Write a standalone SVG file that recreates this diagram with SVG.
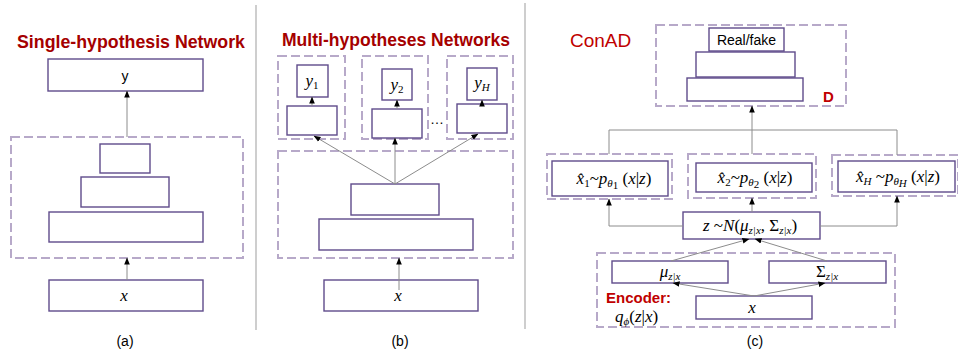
<svg xmlns="http://www.w3.org/2000/svg" width="958" height="355" viewBox="0 0 958 355">
  <style>
    .box{fill:#fff;stroke:#5f4b8b;stroke-width:1.4}
    .grp{fill:none;stroke:#b7a9c9;stroke-width:2;stroke-dasharray:9 4}
    .link{fill:none;stroke:#8c8c8c;stroke-width:1}
    .div{stroke:#b4b4b4;stroke-width:1.3}
    .title{font-family:"Liberation Sans",Arial,sans-serif;font-weight:bold;font-size:19px;fill:#a50000}
    .red{font-family:"Liberation Sans",Arial,sans-serif;fill:#c00000}
    .sans{font-family:"Liberation Sans",Arial,sans-serif;font-size:14px;fill:#000}
    .m{font-family:"Liberation Serif","Times New Roman",serif;font-size:17px;fill:#000}
    .i{font-style:italic}
    .sub{font-size:11px}
  </style>
  <defs>
    <marker id="arr" viewBox="0 0 8 8" refX="7.5" refY="4" markerWidth="7" markerHeight="7" orient="auto" markerUnits="userSpaceOnUse">
      <path d="M0,0.8 L8,4 L0,7.2 Z" fill="#000"/>
    </marker>
  </defs>

  <!-- panel dividers -->
  <line class="div" x1="256" y1="5" x2="256" y2="330"/>
  <line class="div" x1="525" y1="3" x2="525" y2="329"/>

  <!-- (a) single-hypothesis network -->
  <text class="title" x="17" y="48" textLength="228" lengthAdjust="spacingAndGlyphs">Single-hypothesis Network</text>
  <g id="a-out">
    <rect class="box" x="48" y="59" width="155" height="32"/>
    <text class="sans" x="125" y="81" text-anchor="middle" font-size="16">y</text>
  </g>
  <g id="a-net">
    <rect class="grp" x="11" y="137" width="232" height="121"/>
    <rect class="box" x="100" y="144" width="50" height="29"/>
    <rect class="box" x="81" y="177" width="88" height="30"/>
    <rect class="box" x="49" y="212" width="154" height="30"/>
  </g>
  <g id="a-in">
    <rect class="box" x="49" y="280" width="154" height="31"/>
    <text class="m i" x="124" y="301" text-anchor="middle">x</text>
  </g>
  <text class="sans" x="125" y="346" text-anchor="middle">(a)</text>

  <!-- (b) multi-hypotheses networks -->
  <text class="title" x="282" y="46" textLength="228" lengthAdjust="spacingAndGlyphs">Multi-hypotheses Networks</text>
  <g id="b-head1">
    <rect class="grp" x="278" y="56" width="67" height="83"/>
    <rect class="box" x="297" y="65" width="31" height="32"/>
    <text class="m i" x="312" y="86" text-anchor="middle">y<tspan class="sub" font-style="normal" dy="3">1</tspan></text>
    <rect class="box" x="287" y="106" width="50" height="29"/>
  </g>
  <g id="b-head2">
    <rect class="grp" x="362" y="56" width="66" height="83"/>
    <rect class="box" x="382" y="69" width="30" height="31"/>
    <text class="m i" x="397" y="90" text-anchor="middle">y<tspan class="sub" font-style="normal" dy="3">2</tspan></text>
    <rect class="box" x="372" y="109" width="50" height="29"/>
  </g>
  <text class="sans" x="437" y="124" text-anchor="middle">…</text>
  <g id="b-headH">
    <rect class="grp" x="447" y="56" width="66" height="83"/>
    <rect class="box" x="467" y="68" width="30" height="32"/>
    <text class="m i" x="482" y="88" text-anchor="middle">y<tspan class="sub" dy="3">H</tspan></text>
    <rect class="box" x="457" y="104" width="50" height="29"/>
  </g>
  <g id="b-net">
    <rect class="grp" x="278" y="151" width="235" height="107"/>
    <rect class="box" x="351" y="184" width="88" height="31"/>
    <rect class="box" x="319" y="219" width="154" height="31"/>
  </g>
  <g id="b-in">
    <rect class="box" x="324" y="280" width="154" height="31"/>
    <text class="m i" x="398" y="301" text-anchor="middle">x</text>
  </g>
  <text class="sans" x="400" y="346" text-anchor="middle">(b)</text>

  <!-- (c) ConAD -->
  <text class="red" x="570" y="47" font-size="19">ConAD</text>
  <g id="c-disc">
    <rect class="grp" x="656" y="25" width="190" height="81"/>
    <rect class="box" x="709" y="28" width="75" height="23"/>
    <text class="sans" x="746.5" y="45" text-anchor="middle">Real/fake</text>
    <rect class="box" x="696" y="52" width="99" height="25"/>
    <rect class="box" x="687" y="78" width="116" height="23"/>
    <text class="red" x="823" y="102" font-size="15" font-weight="bold">D</text>
  </g>
  <g id="c-dec1">
    <rect class="grp" x="547" y="154" width="125" height="45"/>
    <rect class="box" x="552" y="161" width="116" height="35"/>
    <text class="m" x="614" y="184" text-anchor="middle"><tspan class="i">x̂</tspan><tspan class="sub" dy="3">1</tspan><tspan dy="-3">~</tspan><tspan class="i">p</tspan><tspan class="sub i" dy="3">θ</tspan><tspan class="sub" font-size="8" dy="2">1</tspan><tspan dy="-5"> (</tspan><tspan class="i">x</tspan>|<tspan class="i">z</tspan>)</text>
  </g>
  <g id="c-dec2">
    <rect class="grp" x="688" y="154" width="128" height="44"/>
    <rect class="box" x="696" y="163" width="116" height="29"/>
    <text class="m" x="755" y="183" text-anchor="middle"><tspan class="i">x̂</tspan><tspan class="sub" dy="3">2</tspan><tspan dy="-3">~</tspan><tspan class="i">p</tspan><tspan class="sub i" dy="3">θ</tspan><tspan class="sub" font-size="8" dy="2">2</tspan><tspan dy="-5"> (</tspan><tspan class="i">x</tspan>|<tspan class="i">z</tspan>)</text>
  </g>
  <g id="c-decH">
    <rect class="grp" x="832" y="155" width="126" height="41"/>
    <rect class="box" x="838" y="161" width="117" height="31"/>
    <text class="m" x="898" y="182" text-anchor="middle"><tspan class="i">x̂</tspan><tspan class="sub i" dy="3">H</tspan><tspan dy="-3"> ~</tspan><tspan class="i">p</tspan><tspan class="sub i" dy="3">θ</tspan><tspan class="sub i" font-size="8" dy="2">H</tspan><tspan dy="-5"> (</tspan><tspan class="i">x</tspan>|<tspan class="i">z</tspan>)</text>
  </g>
  <g id="c-latent">
    <rect class="box" x="683" y="212" width="137" height="27"/>
    <text class="m" x="750" y="231" text-anchor="middle"><tspan class="i">z</tspan> ~<tspan class="i">N</tspan>(<tspan class="i">μ</tspan><tspan class="sub i" dy="3">z|x</tspan><tspan dy="-3">, Σ</tspan><tspan class="sub i" dy="3">z|x</tspan><tspan dy="-3">)</tspan></text>
  </g>
  <g id="c-enc">
    <rect class="grp" x="597" y="253" width="298" height="74"/>
    <rect class="box" x="612" y="261" width="116" height="22"/>
    <text class="m" x="670" y="277" text-anchor="middle"><tspan class="i">μ</tspan><tspan class="sub i" dy="3">z|x</tspan></text>
    <rect class="box" x="769" y="261" width="117" height="22"/>
    <text class="m" x="827" y="277" text-anchor="middle">Σ<tspan class="sub i" dy="3">z|x</tspan></text>
    <rect class="box" x="696" y="296" width="116" height="23"/>
    <text class="m i" x="752" y="313" text-anchor="middle">x</text>
    <text class="red" x="606" y="303" font-size="15" font-weight="bold">Encoder:</text>
    <text class="m" x="615" y="322"><tspan class="i">q</tspan><tspan class="sub i" dy="3">ϕ</tspan><tspan dy="-3">(</tspan><tspan class="i">z</tspan>|<tspan class="i">x</tspan>)</text>
  </g>
  <text class="sans" x="755" y="346" text-anchor="middle">(c)</text>

  <!-- connectors -->
  <g id="connectors">
    <line class="link" x1="127" y1="137" x2="127" y2="91" marker-end="url(#arr)"/>
    <line class="link" x1="127" y1="280" x2="127" y2="258" marker-end="url(#arr)"/>

    <line class="link" x1="399" y1="290" x2="399" y2="258" marker-end="url(#arr)"/>
    <line class="link" x1="395" y1="184" x2="314" y2="136" marker-end="url(#arr)"/>
    <line class="link" x1="395" y1="184" x2="395" y2="138" marker-end="url(#arr)"/>
    <line class="link" x1="395" y1="184" x2="478" y2="134" marker-end="url(#arr)"/>
    <line class="link" x1="312" y1="106" x2="312" y2="97" marker-end="url(#arr)"/>
    <line class="link" x1="397" y1="109" x2="397" y2="100" marker-end="url(#arr)"/>
    <line class="link" x1="482" y1="104" x2="482" y2="100" marker-end="url(#arr)"/>

    <path class="link" d="M609,154 V130 H897 V155"/>
    <line class="link" x1="752" y1="154" x2="752" y2="106" marker-end="url(#arr)"/>
    <path class="link" d="M683,226 H609 V199" marker-end="url(#arr)"/>
    <line class="link" x1="752" y1="212" x2="752" y2="198" marker-end="url(#arr)"/>
    <path class="link" d="M820,226 H897 V196" marker-end="url(#arr)"/>
    <line class="link" x1="671" y1="261" x2="749" y2="239" marker-end="url(#arr)"/>
    <line class="link" x1="827" y1="261" x2="755" y2="239" marker-end="url(#arr)"/>
    <line class="link" x1="754" y1="296" x2="673" y2="283" marker-end="url(#arr)"/>
    <line class="link" x1="754" y1="296" x2="825" y2="283" marker-end="url(#arr)"/>
  </g>
</svg>
